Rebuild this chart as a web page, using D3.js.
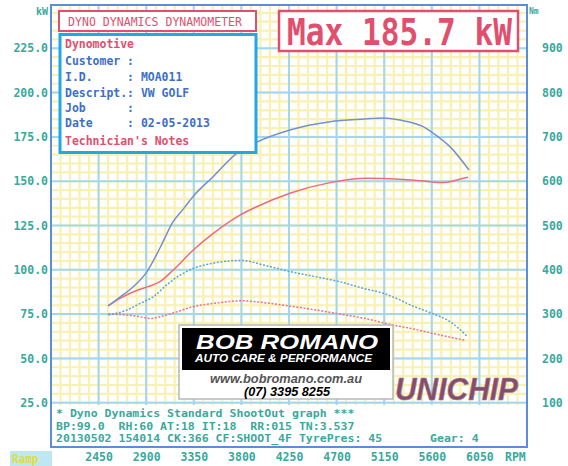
<!DOCTYPE html>
<html>
<head>
<meta charset="utf-8">
<script src="https://cdn.jsdelivr.net/npm/d3@7"></script>
<style>
body { margin: 0; background: #fff; }
svg { display: block; }
text { font-family: "DejaVu Sans Mono", monospace; white-space: pre; }
</style>
</head>
<body>
<div id="vis"></div>
<script>
// axis ticks
const rpmTicks = [2450, 2900, 3350, 3800, 4250, 4700, 5150, 5600, 6050];
const kwTicks = [25, 50, 75, 100, 125, 150, 175, 200, 225];
const nmTicks = [100, 200, 300, 400, 500, 600, 700, 800, 900];

// run 1 (blue) power, kW
const run1PowerRpm = [2539, 2652, 2775, 2908, 3030, 3153, 3267, 3342, 3532, 3758, 3929, 4259, 4638, 4969, 5139, 5299, 5517, 5611, 5772, 5952];
const run1PowerKw  = [79.6, 84.6, 90.3, 99.0, 112.3, 127.0, 135.5, 141.3, 152.5, 165.9, 171.6, 178.9, 183.6, 185.1, 185.7, 184.5, 180.8, 177.2, 169.5, 156.3];

// run 2 (red) power, kW
const run2PowerRpm = [2539, 2652, 2841, 2917, 3030, 3156, 3345, 3534, 3787, 3945, 4259, 4638, 4985, 5299, 5520, 5706, 5836, 5942];
const run2PowerKw  = [79.6, 83.9, 89.0, 90.5, 93.3, 99.9, 111.2, 120.6, 130.9, 135.6, 143.2, 149.2, 151.6, 151.1, 150.1, 149.2, 150.7, 152.2];

// run 1 (blue) torque, Nm
const run1TorqueRpm = [2542, 2716, 2841, 2967, 3094, 3220, 3345, 3534, 3803, 4007, 4259, 4512, 4732, 4952, 5141, 5299, 5394, 5599, 5772, 5930];
const run1TorqueNm  = [298, 309, 324, 339, 366, 388, 403, 415, 421, 411, 396, 384, 373, 358, 347, 332, 321, 302, 283, 251];

// run 2 (red) torque, Nm
const run2TorqueRpm = [2542, 2716, 2841, 2936, 3030, 3188, 3345, 3534, 3803, 4007, 4259, 4512, 4732, 4952, 5236, 5394, 5599, 5772, 5914];
const run2TorqueNm  = [300, 298, 294, 290, 294, 305, 317, 324, 330, 326, 318, 309, 300, 291, 275, 268, 257, 248, 241];

// texts
const infoLines = [
    { t: "Dynomotive", red: true },
    { t: "Customer :" },
    { t: "I.D.     : MOA011" },
    { t: "Descript.: VW GOLF" },
    { t: "Job      :" },
    { t: "Date     : 02-05-2013" },
    { t: "Technician's Notes", red: true }
];
const infoBaselines = [47.7, 65, 80.7, 96.7, 111.5, 126.7, 145];
const footLines = [
    "* Dyno Dynamics Standard ShootOut graph ***",
    "BP:99.0  RH:60 AT:18 IT:18  RR:015 TN:3.537",
    "20130502 154014 CK:366 CF:SHOOT_4F TyrePres: 45"
];
const maxText = "Max 185.7 kW";

const ctx = {
    w: 568, h: 466,
    left: 51, right: 527, top: 5, bottom: 447, gridBottom: 405,
    teal: "#3aa99c", red: "#e0506e", blue: "#3d6fc8",
    frame: "#5b8ddb", major: "#a3d8ec", minor: "#f8f1b2",
    cw: 6.9
};

const x = d3.scaleLinear().domain([2000, 6500]).range([ctx.left, ctx.right]);
const yKw = d3.scaleLinear().domain([0, 250]).range([ctx.bottom, 4]);
const yNm = d3.scaleLinear().domain([0, 1000]).range([ctx.bottom, 4]);

const svg = d3.select("#vis").append("svg")
    .attr("width", ctx.w).attr("height", ctx.h);

svg.append("clipPath").attr("id", "plotClip")
    .append("rect")
    .attr("x", ctx.left).attr("y", ctx.top)
    .attr("width", ctx.right - ctx.left).attr("height", ctx.gridBottom - ctx.top);

// grid
let gridG = svg.append("g").attr("clip-path", "url(#plotClip)");
gridG.selectAll("line.minV")
    .data(d3.range(2000, 6501, 90))
    .enter().append("line")
    .attr("x1", d => x(d)).attr("x2", d => x(d))
    .attr("y1", ctx.top).attr("y2", ctx.gridBottom)
    .style("stroke", ctx.minor).style("stroke-width", 2.2);
gridG.selectAll("line.minH")
    .data(d3.range(0, 251, 5))
    .enter().append("line")
    .attr("y1", d => yKw(d)).attr("y2", d => yKw(d))
    .attr("x1", ctx.left).attr("x2", ctx.right)
    .style("stroke", ctx.minor).style("stroke-width", 2.2);
gridG.selectAll("line.majV")
    .data(rpmTicks)
    .enter().append("line")
    .attr("x1", d => x(d)).attr("x2", d => x(d))
    .attr("y1", ctx.top).attr("y2", ctx.gridBottom)
    .style("stroke", ctx.major).style("stroke-width", 2);
gridG.selectAll("line.majH")
    .data(kwTicks)
    .enter().append("line")
    .attr("y1", d => yKw(d)).attr("y2", d => yKw(d))
    .attr("x1", ctx.left).attr("x2", ctx.right)
    .style("stroke", ctx.major).style("stroke-width", 2);

// curves
function drawCurve(rpms, vals, yScale, color, dashed) {
    let pts = rpms.map((r, i) => [r, vals[i]]);
    let line = d3.line()
        .x(d => x(d[0]))
        .y(d => yScale(d[1]))
        .curve(d3.curveMonotoneX);
    svg.append("path")
        .datum(pts)
        .attr("d", line)
        .style("fill", "none")
        .style("stroke", color)
        .style("stroke-width", 1.5)
        .style("stroke-dasharray", dashed ? "2,1.6" : null);
}
drawCurve(run2TorqueRpm, run2TorqueNm, yNm, "#e8708c", true);
drawCurve(run1TorqueRpm, run1TorqueNm, yNm, "#58a6d8", true);
drawCurve(run2PowerRpm, run2PowerKw, yKw, "#ee6a7e", false);
drawCurve(run1PowerRpm, run1PowerKw, yKw, "#7490d0", false);

// frame
svg.append("rect")
    .attr("x", ctx.left).attr("y", ctx.top)
    .attr("width", ctx.right - ctx.left).attr("height", ctx.bottom - ctx.top)
    .style("fill", "none").style("stroke", ctx.frame).style("stroke-width", 2);

// axes
function styleAxis(g, anchor) {
    g.select(".domain").remove();
    g.selectAll("text")
        .attr("font-family", "DejaVu Sans Mono")
        .attr("font-size", 11.5)
        .attr("font-weight", "bold")
        .style("fill", ctx.teal)
        .style("text-anchor", anchor);
}
svg.append("g")
    .attr("transform", "translate(48,0)")
    .call(d3.axisLeft(yKw).tickValues(kwTicks).tickFormat(d3.format(".1f")).tickSize(0).tickPadding(0))
    .call(g => styleAxis(g, "end"));
svg.append("g")
    .attr("transform", "translate(542,0)")
    .call(d3.axisRight(yNm).tickValues(nmTicks).tickSize(0).tickPadding(0))
    .call(g => styleAxis(g, "start"));
let xAxisG = svg.append("g")
    .attr("transform", "translate(0,457)")
    .call(d3.axisBottom(x).tickValues(rpmTicks).tickFormat(d3.format("d")).tickSize(0).tickPadding(0))
    .call(g => styleAxis(g, "middle"));
xAxisG.selectAll("text").attr("y", 0).attr("dy", "0.36em");

svg.append("text").attr("x", 505).attr("y", 461)
    .attr("font-size", 11.5).attr("font-weight", "bold")
    .style("fill", ctx.teal).text("RPM");
svg.append("text").attr("x", 48).attr("y", 15).style("text-anchor", "end")
    .attr("font-size", 10).attr("font-weight", "bold")
    .style("fill", ctx.teal).text("kW");
svg.append("text").attr("x", 529).attr("y", 14)
    .attr("font-size", 8).attr("font-weight", "bold")
    .style("fill", ctx.teal).text("Nm");

// header boxes
function monoText(sel, str, px, py, size, color, cw) {
    return sel.append("text")
        .attr("x", px).attr("y", py)
        .attr("font-size", size)
        .attr("textLength", str.length * cw)
        .attr("lengthAdjust", "spacingAndGlyphs")
        .style("fill", color)
        .text(str);
}

// Ramp label
svg.append("rect").attr("x", 10).attr("y", 451).attr("width", 42).attr("height", 15)
    .style("fill", "#bde8f2");
monoText(svg, "Ramp", 12, 462.5, 12, "#e2dc3c", 6.6).attr("font-weight", "bold");

svg.append("rect").attr("x", 59).attr("y", 11).attr("width", 197).attr("height", 20)
    .style("fill", "#fff").style("stroke", ctx.red).style("stroke-width", 2);
monoText(svg, "DYNO DYNAMICS DYNAMOMETER", 68, 25.5, 12.5, ctx.red, 6.96);

svg.append("rect").attr("x", 60).attr("y", 34.5).attr("width", 196).attr("height", 118)
    .style("fill", "#fff").style("stroke", "#22a6e6").style("stroke-width", 3);
infoLines.forEach((l, i) => {
    monoText(svg, l.t, 65, infoBaselines[i], 12.5, l.red ? ctx.red : ctx.blue, ctx.cw)
        .attr("font-weight", "bold");
});

svg.append("rect").attr("x", 279).attr("y", 11).attr("width", 239).attr("height", 40)
    .style("fill", "#fff").style("stroke", ctx.red).style("stroke-width", 2.5);
// squeeze the big text horizontally with a transform
svg.append("text")
    .attr("transform", "translate(287,45) scale(0.82,1)")
    .attr("font-size", 38).attr("font-weight", "bold")
    .style("fill", ctx.red)
    .text(maxText);

// footer text
let footY = [416.5, 429.5, 442];
footLines.forEach((l, i) => {
    monoText(svg, l, 56, footY[i], 10.5, ctx.teal, 6.94).attr("font-weight", "bold");
});
monoText(svg, "Gear: 4", 430, footY[2], 10.5, ctx.teal, 6.94).attr("font-weight", "bold");

// sponsor box
let logoG = svg.append("g");
logoG.append("rect").attr("x", 179).attr("y", 325).attr("width", 214).attr("height", 74)
    .style("fill", "#fff").style("stroke", "#b8b8b8").style("stroke-width", 1.5);
logoG.append("rect").attr("x", 182).attr("y", 328).attr("width", 208).attr("height", 42)
    .style("fill", "#000");
function logoText(str, px, py, size, len, color) {
    logoG.append("text")
        .attr("x", px).attr("y", py)
        .attr("font-weight", "bold").attr("font-style", "italic")
        .attr("font-size", size)
        .attr("textLength", len).attr("lengthAdjust", "spacingAndGlyphs")
        .style("font-family", "Liberation Sans")
        .style("fill", color)
        .text(str);
}
logoText("BOB ROMANO", 196, 349, 20, 182, "#fff");
logoText("AUTO CARE & PERFORMANCE", 195, 361.7, 10, 177, "#fff");
logoText("www.bobromano.com.au", 210, 382.5, 12.5, 152, "#555");
logoText("(07) 3395 8255", 244, 395.5, 12.5, 86, "#000");

// unichip mark
svg.append("text")
    .attr("x", 395).attr("y", 399.5)
    .attr("font-size", 31).attr("font-weight", "bold").attr("font-style", "italic")
    .attr("textLength", 123).attr("lengthAdjust", "spacingAndGlyphs")
    .style("font-family", "Liberation Sans")
    .style("fill", "#8a4a6a")
    .style("stroke", "#a08a9a").style("stroke-width", 0.6)
    .text("UNICHIP");
</script>
</body>
</html>
